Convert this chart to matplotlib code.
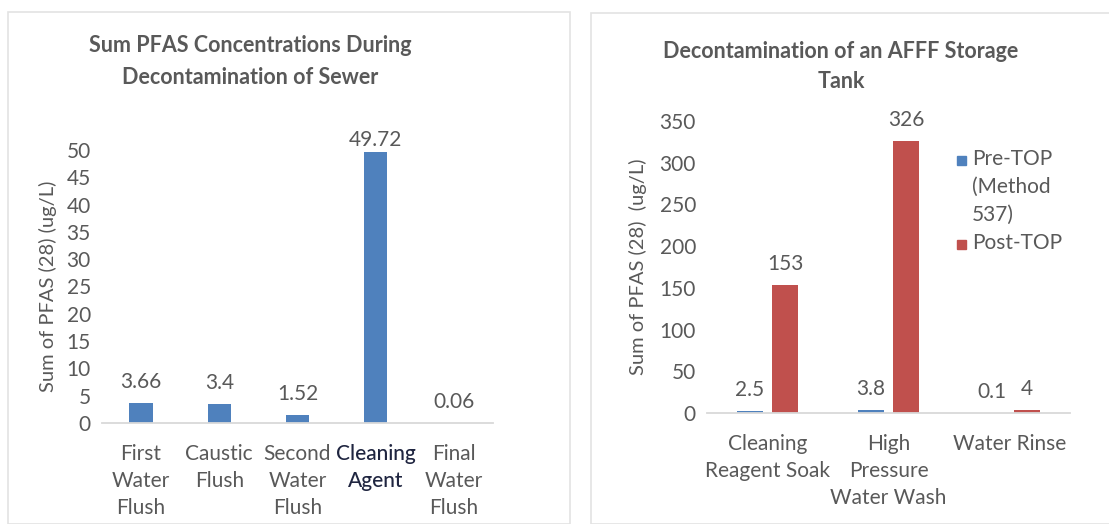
import matplotlib.pyplot as plt
from matplotlib.patches import Rectangle

plt.rcParams["font.family"] = ["Lato", "DejaVu Sans"]

# left chart: sewer decontamination
sewer_steps = ["First\nWater\nFlush", "Caustic\nFlush", "Second\nWater\nFlush",
               "Cleaning\nAgent", "Final\nWater\nFlush"]
sewer_pfas = [3.66, 3.4, 1.52, 49.72, 0.06]
sewer_labels = ["3.66", "3.4", "1.52", "49.72", "0.06"]

# right chart: AFFF storage tank
tank_steps = ["Cleaning\nReagent Soak", "High\nPressure\nWater Wash", "Water Rinse"]
pre_top = [2.5, 3.8, 0.1]
post_top = [153, 326, 4]
series_names = ["Pre-TOP\n(Method\n537)", "Post-TOP"]

blue = "#4F81BD"
red = "#C0504D"
gray = "#595959"
line = "#D9D9D9"
W, H = 1109, 524
fs = 15

fig = plt.figure(figsize=(W / 100, H / 100), dpi=100)

# panel frames
fig.patches.append(Rectangle((8 / W, 0), 562 / W, 1 - 12 / H, transform=fig.transFigure,
                             fill=False, edgecolor="#E3E3E3", lw=1.2))
fig.patches.append(Rectangle((591 / W, 0), 530 / W, 1 - 13 / H, transform=fig.transFigure,
                             fill=False, edgecolor="#E3E3E3", lw=1.2))


def style(ax):
    for s in ["top", "right", "left"]:
        ax.spines[s].set_visible(False)
    ax.spines["bottom"].set_color(line)
    ax.spines["bottom"].set_linewidth(1.3)
    ax.tick_params(length=0, colors=gray, labelsize=fs)
    ax.tick_params(axis="x", pad=15)
    ax.tick_params(axis="y", pad=8)


# ---- left
ax1 = fig.add_axes([102 / W, (H - 423) / H, 391 / W, 273 / H])
x1 = range(len(sewer_steps))
bars = ax1.bar(x1, sewer_pfas, width=0.3, color=blue)
ax1.set_xlim(-0.5, len(sewer_steps) - 0.5)
ax1.set_ylim(0, 50)
ax1.set_yticks(range(0, 51, 5))
ax1.set_xticks(list(x1))
ax1.set_xticklabels(sewer_steps, linespacing=1.45)
style(ax1)
lbl = ax1.get_xticklabels()[3]
lbl.set_color("#1F2540")
lbl.set_fontweight("medium")
for b, t in zip(bars, sewer_labels):
    off = 1 if b.get_height() > 40 else 8
    ax1.annotate(t, (b.get_x() + b.get_width() / 2, b.get_height()), xytext=(0, off),
                 textcoords="offset points", ha="center", va="bottom",
                 fontsize=fs, color=gray)
ax1.set_ylabel("Sum of PFAS (28) (ug/L)", fontsize=14.5, color=gray, labelpad=7)
fig.text(250 / W, 1 - 45 / H, "Sum PFAS Concentrations During", ha="center", va="center",
         fontsize=15.5, fontweight="bold", color=gray)
fig.text(250 / W, 1 - 78 / H, "Decontamination of Sewer", ha="center", va="center",
         fontsize=15.5, fontweight="bold", color=gray)

# ---- right
ax2 = fig.add_axes([707 / W, (H - 413) / H, 363 / W, 292 / H])
x2 = list(range(len(tank_steps)))
w = 0.21
b_pre = ax2.bar([i - 0.145 for i in x2], pre_top, width=w, color=blue)
b_post = ax2.bar([i + 0.145 for i in x2], post_top, width=w, color=red)
ax2.set_xlim(-0.5, len(tank_steps) - 0.5)
ax2.set_ylim(0, 350)
ax2.set_yticks(range(0, 351, 50))
ax2.set_xticks(x2)
ax2.set_xticklabels(tank_steps, linespacing=1.45)
style(ax2)
for bs, vals in [(b_pre, pre_top), (b_post, post_top)]:
    for b, v in zip(bs, vals):
        ax2.annotate(f"{v:g}", (b.get_x() + b.get_width() / 2, b.get_height()),
                     xytext=(0, 8), textcoords="offset points", ha="center",
                     va="bottom", fontsize=fs, color=gray)
ax2.set_ylabel("Sum of PFAS (28)  (ug/L)", fontsize=14.5, color=gray, labelpad=9)
fig.text(841 / W, 1 - 51 / H, "Decontamination of an AFFF Storage", ha="center",
         va="center", fontsize=15.5, fontweight="bold", color=gray)
fig.text(841 / W, 1 - 81 / H, "Tank", ha="center", va="center",
         fontsize=15.5, fontweight="bold", color=gray)

# legend
for name, col, y in [(series_names[0], blue, 161), (series_names[1], red, 245)]:
    fig.patches.append(Rectangle((957 / W, 1 - (y + 4) / H), 9 / W, 9 / H,
                                 transform=fig.transFigure, color=col))
    fig.text(972 / W, 1 - (y - 12) / H, name, ha="left", va="top", fontsize=fs,
             color=gray, linespacing=1.5)

fig.savefig("out.png", dpi=100)
